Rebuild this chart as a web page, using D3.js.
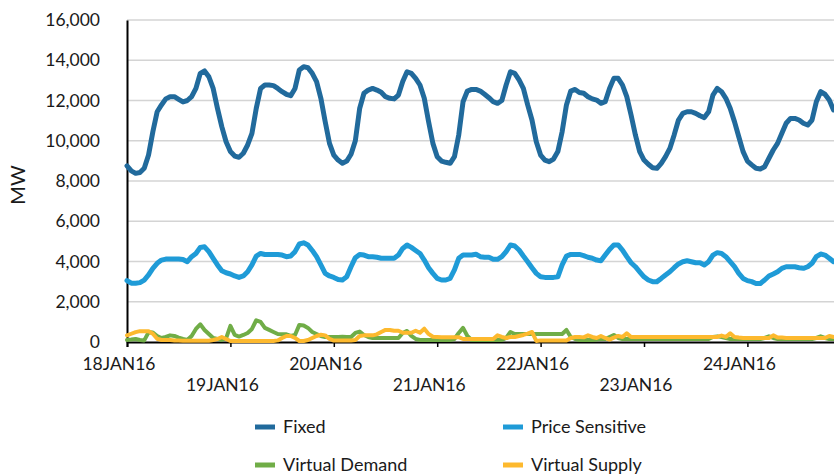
<!DOCTYPE html>
<html>
<head>
<meta charset="utf-8">
<script src="https://cdn.jsdelivr.net/npm/d3@7"></script>
<style>
  body { margin: 0; background: #fff; }
  text { font-family: Lato, "Open Sans", sans-serif; fill: #1a1a1a; }
</style>
</head>
<body>
<div id="chart"></div>
<script>
// day labels on the category axis (hourly data, one label per day)
var dayLabels = ["18JAN16", "19JAN16", "20JAN16", "21JAN16", "22JAN16", "23JAN16", "24JAN16"];
var yTicks = [0, 2000, 4000, 6000, 8000, 10000, 12000, 14000, 16000];

// hourly MW values
var fixed = [
  8750, 8500, 8380, 8420, 8630, 9290, 10450, 11440, 11780, 12080, 12190, 12190, 12060, 11930, 12000, 12190, 12600, 13350, 13470, 13180, 12600, 11610, 10700, 9950,
  9460, 9240, 9180, 9380, 9790, 10370, 11610, 12600, 12770, 12770, 12740, 12600, 12440, 12310, 12240, 12600, 13520, 13680, 13630, 13350, 12940, 12110, 10950, 9870,
  9290, 9040, 8880, 8990, 9330, 10000, 11600, 12360, 12520, 12600, 12520, 12410, 12190, 12110, 12080, 12270, 12940, 13430, 13350, 13100, 12770, 12110, 10950, 9870,
  9210, 8990, 8930, 8880, 9210, 10290, 11940, 12470, 12550, 12550, 12470, 12310, 12140, 11940, 11860, 12000, 12770, 13430, 13350, 13020, 12600, 11780, 11030, 9950,
  9290, 9040, 8960, 9090, 9460, 10450, 11780, 12470, 12550, 12400, 12360, 12190, 12080, 12020, 11860, 11940, 12600, 13100, 13100, 12770, 12190, 11280, 10290, 9460,
  9040, 8830, 8660, 8630, 8880, 9210, 9620, 10290, 11030, 11360, 11440, 11440, 11360, 11240, 11150, 11440, 12270, 12600, 12440, 12110, 11610, 10950, 10200, 9460,
  8990, 8800, 8630, 8600, 8710, 9130, 9540, 9870, 10370, 10870, 11110, 11110, 11030, 10870, 10780, 11030, 11940, 12440, 12310, 12020, 11530
];
var priceSensitive = [
  3050, 2920, 2920, 2950, 3080, 3330, 3660, 3910, 4070, 4120, 4120, 4120, 4120, 4100, 3990, 4240, 4400, 4700, 4730, 4490, 4160, 3830, 3540, 3440,
  3380, 3280, 3210, 3280, 3490, 3830, 4270, 4400, 4350, 4350, 4350, 4350, 4320, 4240, 4270, 4490, 4870, 4930, 4820, 4550, 4240, 3830, 3410, 3280,
  3210, 3110, 3080, 3240, 3740, 4190, 4350, 4320, 4240, 4240, 4210, 4160, 4160, 4160, 4160, 4320, 4650, 4820, 4700, 4550, 4400, 4070, 3690, 3410,
  3160, 3080, 3080, 3160, 3580, 4160, 4320, 4320, 4320, 4360, 4240, 4210, 4210, 4110, 4110, 4240, 4490, 4820, 4770, 4570, 4270, 3990, 3690, 3410,
  3240, 3210, 3210, 3210, 3240, 3830, 4270, 4350, 4350, 4350, 4290, 4210, 4160, 4070, 4040, 4320, 4600, 4820, 4820, 4570, 4240, 3940, 3740, 3490,
  3240, 3080, 3000, 3000, 3160, 3330, 3490, 3690, 3880, 3990, 4040, 3990, 3940, 3940, 3830, 3990, 4320, 4440, 4400, 4240, 3990, 3740, 3410, 3160,
  3050, 3000, 2910, 2910, 3080, 3280, 3380, 3490, 3660, 3740, 3740, 3740, 3690, 3660, 3740, 3910, 4240, 4370, 4320, 4160, 3990
];
var virtualDemand = [
  100, 120, 150, 100, 80, 480, 470, 300, 200, 250, 330, 300, 220, 150, 100, 300, 650, 880, 600, 400, 200, 150, 100, 180,
  800, 350, 270, 350, 450, 650, 1080, 1000, 700, 600, 500, 400, 380, 380, 300, 350, 850, 820, 700, 500, 400, 300, 250, 250,
  250, 250, 260, 250, 250, 450, 520, 350, 250, 200, 200, 200, 200, 200, 200, 200, 450, 550, 300, 150, 100, 100, 100, 100,
  100, 100, 100, 100, 150, 450, 700, 300, 100, 100, 100, 100, 100, 100, 100, 100, 200, 500, 400, 400, 400, 400, 400, 400,
  400, 400, 400, 400, 400, 400, 600, 250, 150, 100, 100, 100, 100, 120, 150, 150, 250, 350, 200, 150, 150, 150, 150, 150,
  150, 150, 150, 150, 150, 150, 150, 150, 150, 150, 150, 150, 150, 150, 150, 150, 250, 280, 250, 200, 150, 150, 150, 150,
  150, 150, 150, 150, 200, 280, 200, 150, 150, 150, 150, 150, 150, 150, 150, 150, 200, 280, 200, 150, 150
];
var virtualSupply = [
  330, 410, 490, 540, 540, 540, 410, 160, 100, 100, 100, 80, 80, 60, 60, 60, 60, 60, 60, 60, 100, 150, 250, 150,
  50, 50, 50, 50, 50, 50, 50, 50, 50, 50, 50, 80, 200, 300, 300, 200, 50, 50, 100, 200, 300, 360, 330, 150,
  70, 70, 70, 70, 70, 100, 300, 330, 330, 330, 380, 500, 600, 600, 560, 560, 460, 460, 460, 560, 460, 660, 400, 260,
  250, 240, 240, 240, 240, 240, 150, 150, 150, 150, 150, 150, 150, 150, 330, 250, 200, 250, 250, 300, 350, 420, 500, 50,
  80, 80, 80, 80, 80, 80, 80, 200, 250, 250, 230, 330, 250, 200, 300, 200, 120, 220, 300, 250, 430, 250, 250, 250,
  250, 250, 250, 250, 250, 250, 250, 250, 250, 250, 250, 250, 250, 250, 250, 250, 250, 250, 320, 250, 430, 250, 220, 200,
  200, 200, 200, 200, 200, 200, 330, 220, 220, 200, 200, 200, 200, 200, 200, 200, 200, 200, 200, 300, 250
];

var seriesNames = ["Fixed", "Price Sensitive", "Virtual Demand", "Virtual Supply"];
var seriesColors = ["#216a9c", "#1f9bd7", "#70ad47", "#fdb92e"];

var svgWidth = 834;
var svgHeight = 474;
var margin = { top: 20, left: 127, bottom: 132 };

var svg = d3.select("#chart")
  .append("svg")
  .attr("width", svgWidth)
  .attr("height", svgHeight);

// x in hours since 18JAN16 00:00, plot area runs past the right edge
var x = d3.scaleLinear().domain([0, 168]).range([margin.left, margin.left + 7 * 103.4]);
var y = d3.scaleLinear().domain([0, 16000]).range([svgHeight - margin.bottom, margin.top]);

// gridlines
svg.append("g")
  .selectAll("line")
  .data(yTicks.filter(d => d > 0))
  .enter()
  .append("line")
  .attr("x1", margin.left)
  .attr("x2", svgWidth)
  .attr("y1", d => y(d))
  .attr("y2", d => y(d))
  .attr("stroke", "#d4d4d4")
  .attr("stroke-width", 1.5);

// y axis
var yAxis = svg.append("g")
  .attr("transform", `translate(${margin.left},0)`)
  .call(d3.axisLeft(y).tickValues(yTicks).tickSize(0).tickPadding(27).tickFormat(d3.format(",")));
yAxis.select(".domain").attr("stroke", "#000").attr("stroke-width", 2);
yAxis.selectAll("text").attr("font-size", "17.5px").attr("font-family", "Lato, sans-serif").attr("fill", "#1a1a1a");

// x axis
var dayTicks = d3.range(0, 169, 24);
var xAxis = svg.append("g")
  .attr("transform", `translate(0,${y(0)})`)
  .call(d3.axisBottom(x).tickValues(dayTicks).tickSize(5).tickFormat(""));
xAxis.select(".domain").attr("stroke", "#000").attr("stroke-width", 2);
xAxis.selectAll(".tick line").attr("stroke", "#000").attr("stroke-width", 1.5);

svg.append("g")
  .selectAll("text")
  .data(dayLabels)
  .enter()
  .append("text")
  .attr("x", (d, i) => x(i * 24) - 8)
  .attr("y", (d, i) => i % 2 === 0 ? 370 : 391)
  .attr("text-anchor", "middle")
  .attr("font-size", "17.5px")
  .text(d => d);

// y axis title
svg.append("text")
  .attr("transform", "translate(25,185) rotate(-90)")
  .attr("text-anchor", "middle")
  .attr("font-size", "20px")
  .text("MW");

// series lines
var allSeries = [fixed, priceSensitive, virtualDemand, virtualSupply];
var line = d3.line()
  .x((d, i) => x(i))
  .y(d => y(d));

svg.append("g")
  .selectAll("path")
  .data(allSeries)
  .enter()
  .append("path")
  .attr("d", d => line(d))
  .attr("fill", "none")
  .attr("stroke", (d, i) => seriesColors[i])
  .attr("stroke-width", (d, i) => i < 2 ? 5 : 4)
  .attr("stroke-linejoin", "round")
  .attr("stroke-linecap", "round");

// legend
var legendPos = [[255, 427], [503, 427], [255, 465], [503, 465]];
var legend = svg.append("g")
  .selectAll("g")
  .data(seriesNames)
  .enter()
  .append("g")
  .attr("transform", (d, i) => `translate(${legendPos[i][0]},${legendPos[i][1]})`);

legend.append("line")
  .attr("x1", 0)
  .attr("x2", 20)
  .attr("stroke", (d, i) => seriesColors[i])
  .attr("stroke-width", 5);

legend.append("text")
  .attr("x", 28)
  .attr("y", 6)
  .attr("font-size", "18px")
  .text(d => d);
</script>
</body>
</html>
